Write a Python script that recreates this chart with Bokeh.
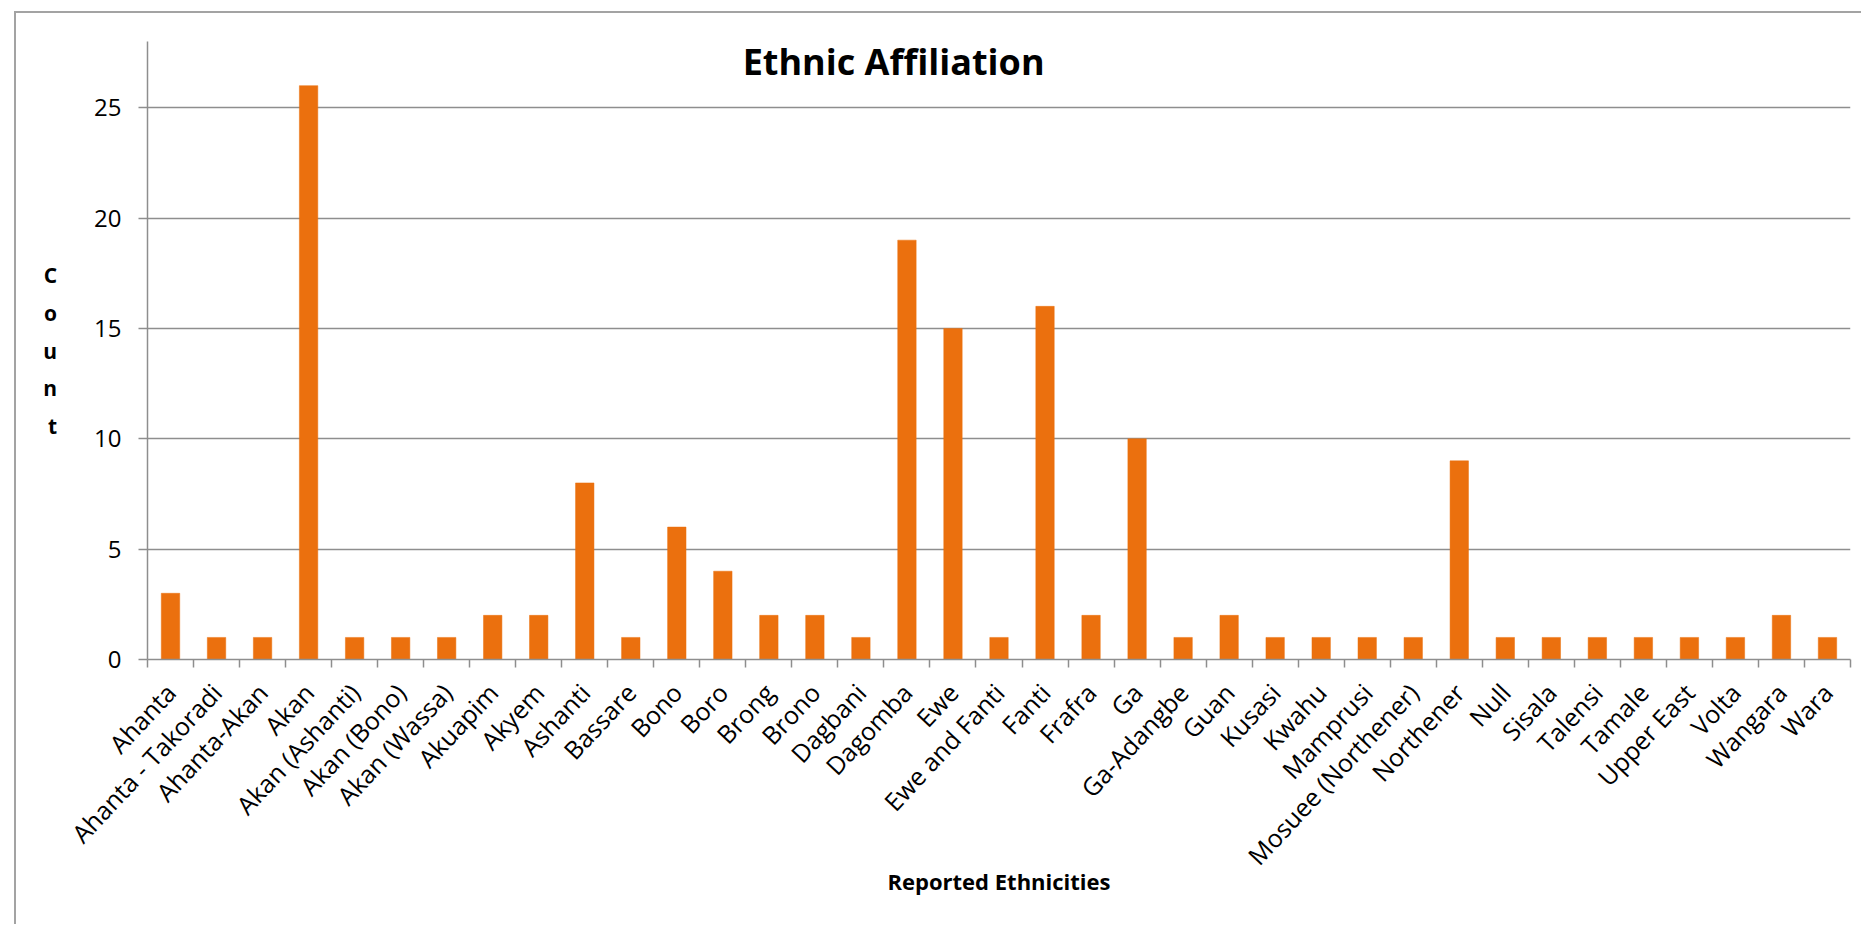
from bokeh.plotting import figure
from bokeh.models import Range1d, FixedTicker, Label, ColumnDataSource
from bokeh.embed import file_html
from bokeh.resources import INLINE
import math

# Reported ethnicities and their counts
ethnicities = [
    "Ahanta", "Ahanta - Takoradi", "Ahanta-Akan", "Akan", "Akan (Ashanti)",
    "Akan (Bono)", "Akan (Wassa)", "Akuapim", "Akyem", "Ashanti", "Bassare",
    "Bono", "Boro", "Brong", "Brono", "Dagbani", "Dagomba", "Ewe",
    "Ewe and Fanti", "Fanti", "Frafra", "Ga", "Ga-Adangbe", "Guan", "Kusasi",
    "Kwahu", "Mamprusi", "Mosuee (Northener)", "Northener", "Null", "Sisala",
    "Talensi", "Tamale", "Upper East", "Volta", "Wangara", "Wara",
]
counts = [
    3, 1, 1, 26, 1, 1, 1, 2, 2, 8, 1, 6, 4, 2, 2, 1, 19, 15, 1, 16, 2, 10,
    1, 2, 1, 1, 1, 1, 9, 1, 1, 1, 1, 1, 1, 2, 1,
]
y_ticks = [0, 5, 10, 15, 20, 25]

TITLE = "Ethnic Affiliation"
X_LABEL = "Reported Ethnicities"
Y_LABEL = "Count"

BAR = "#EB700E"
GRID = "#8E8E8E"
FONT = "Open Sans"

n = len(ethnicities)
centers = [i + 0.5 for i in range(n)]
bounds = list(range(n + 1))

p = figure(
    width=1847, height=913,
    x_range=Range1d(0, n), y_range=Range1d(0, 28),
    output_backend="svg", toolbar_location=None,
    min_border_left=131, min_border_right=13,
    min_border_top=28, min_border_bottom=267,
    styles={
        "margin-left": "14px", "margin-top": "11px",
        "border-left": "2px solid #A3A3A3", "border-top": "2px solid #A3A3A3",
    },
)
p.outline_line_color = None
p.background_fill_color = "white"
p.border_fill_color = "white"

src = ColumnDataSource(dict(x=centers, top=counts, name=ethnicities))
p.vbar(x="x", top="top", width=0.4, bottom=0, source=src,
       fill_color=BAR, line_color=BAR, line_width=0.5)

# x axis: labels at the bar centres, tick marks between categories
xa = p.xaxis[0]
xa.ticker = FixedTicker(ticks=centers, minor_ticks=bounds)
xa.major_label_overrides = {c: name for c, name in zip(centers, ethnicities)}
xa.major_label_orientation = math.radians(47)
xa.major_tick_out = 0
xa.major_tick_in = 0
xa.minor_tick_out = 8
xa.minor_tick_in = 0
xa.minor_tick_line_color = GRID
xa.minor_tick_line_width = 1.5
xa.axis_line_color = GRID
xa.axis_line_width = 1.5
xa.major_label_text_font = FONT
xa.major_label_text_font_size = "25px"
xa.major_label_text_color = "black"
xa.major_label_standoff = 20
xa.axis_label = X_LABEL
xa.axis_label_text_font = FONT
xa.axis_label_text_font_style = "bold"
xa.axis_label_text_font_size = "22px"
xa.axis_label_text_color = "black"
xa.axis_label_standoff = -20

ya = p.yaxis[0]
ya.ticker = FixedTicker(ticks=y_ticks)
ya.major_tick_out = 9
ya.major_tick_in = 0
ya.minor_tick_line_color = None
ya.major_tick_line_color = GRID
ya.major_tick_line_width = 1.5
ya.axis_line_color = GRID
ya.axis_line_width = 1.5
ya.major_label_text_font = FONT
ya.major_label_text_font_size = "24px"
ya.major_label_text_color = "black"
ya.major_label_standoff = 17
ya.axis_label = "\n".join(Y_LABEL)
ya.axis_label_orientation = "horizontal"
ya.axis_label_text_font = FONT
ya.axis_label_text_font_style = "bold"
ya.axis_label_text_font_size = "21px"
ya.axis_label_text_color = "black"
ya.axis_label_text_line_height = 1.35
ya.axis_label_standoff = 34

p.xgrid.visible = False
p.ygrid.ticker = FixedTicker(ticks=y_ticks)
p.ygrid.grid_line_color = GRID
p.ygrid.grid_line_width = 1.5

p.add_layout(Label(x=16.21, y=27.08, text=TITLE, text_align="center",
                   text_baseline="alphabetic", text_font=FONT,
                   text_font_style="bold", text_font_size="36px",
                   text_color="black"))

open("out.html", "w").write(file_html(p, INLINE))
